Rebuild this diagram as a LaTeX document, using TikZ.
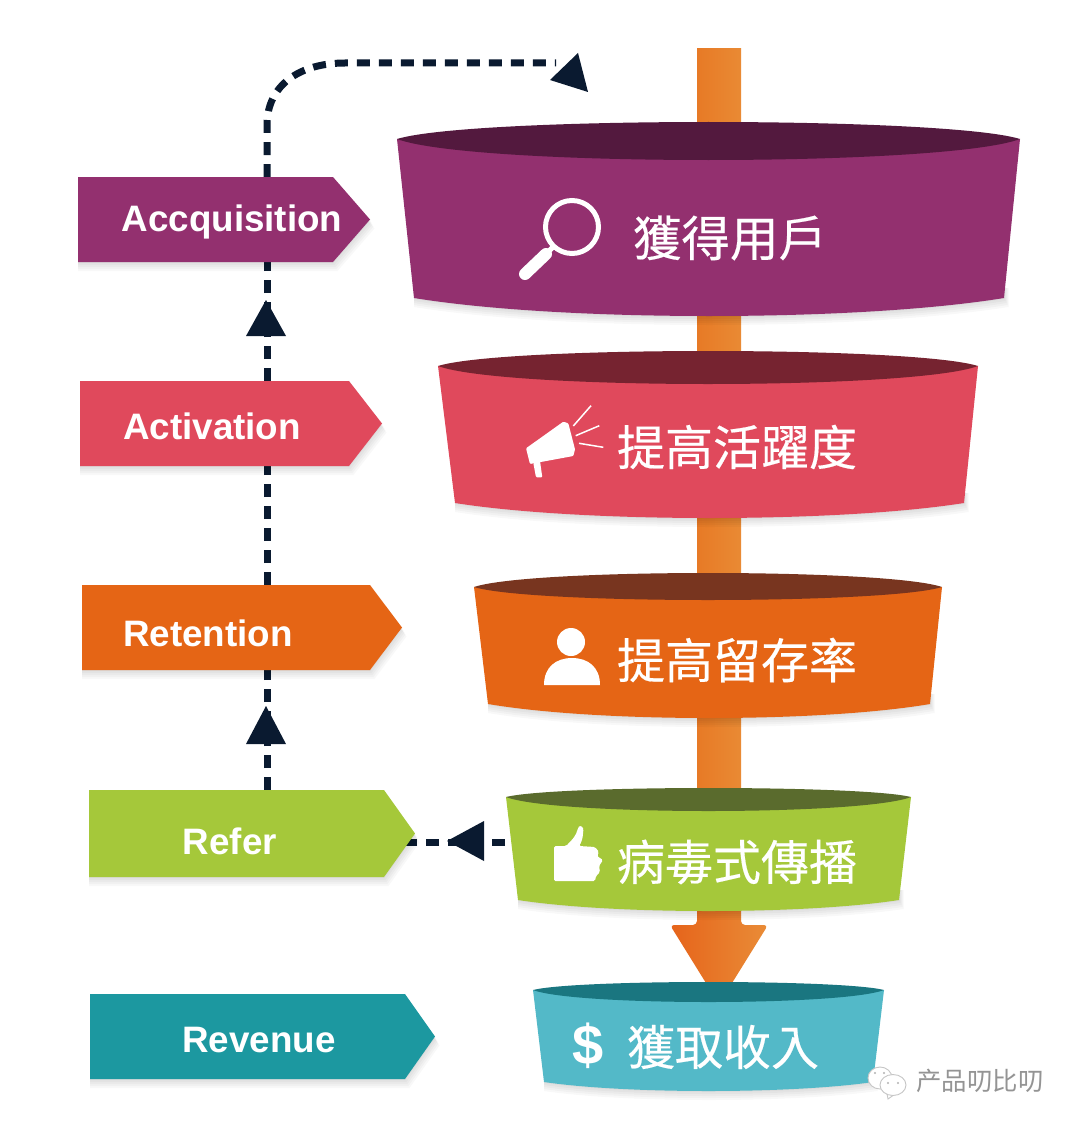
\documentclass[tikz,border=0pt]{standalone}
\usepackage{fontspec}
\setmainfont{Liberation Sans}
\newfontfamily\cjk[FakeBold=0.35]{Noto Sans CJK TC}
\newfontfamily\cjksc{Noto Sans CJK SC}
\usetikzlibrary{calc}
\definecolor{ink}{HTML}{0A1A30}
\definecolor{oraL}{HTML}{E6641B}
\definecolor{oraR}{HTML}{E98C37}
\definecolor{shaftL}{HTML}{E77A26}
\definecolor{shaftR}{HTML}{E98A34}
\definecolor{purpleB}{HTML}{93306F}
\definecolor{purpleD}{HTML}{53193E}
\definecolor{redB}{HTML}{E0495C}
\definecolor{redD}{HTML}{762330}
\definecolor{orangeB}{HTML}{E56515}
\definecolor{orangeD}{HTML}{78351F}
\definecolor{greenB}{HTML}{A5C83A}
\definecolor{greenD}{HTML}{5A6B2D}
\definecolor{tealB}{HTML}{53B9C8}
\definecolor{tealD}{HTML}{1A7680}
\definecolor{tealT}{HTML}{1C98A0}
\tikzset{
  taglabel/.style={text=white,font=\bfseries\fontsize{36.8}{40}\selectfont,inner sep=0pt},
  funnellabel/.style={text=white,font=\cjk\fontsize{48}{50}\selectfont,inner sep=0pt},
  tagbox/.style={anchor=north west,inner sep=0pt,outer sep=0pt},
  flow/.style={draw=ink,line width=7pt,dash pattern=on 13pt off 9pt},
  headfill/.style={fill=ink},
  iconfill/.style={fill=white,draw=none},
  softshade/.style={fill=black,opacity=0.028}
}
\newcommand{\tagpent}[7]{% name, x0, xshoulder, xtip, ytop, ybot, colour
  \foreach \d in {1,3,5,7,9}{
    \fill[softshade] ({#2},{#5+\d}) -- ({#3+\d/2},{#5+\d}) -- ({#4+\d/2},{(#5+#6)/2+\d}) -- ({#3+\d/2},{#6+\d}) -- ({#2},{#6+\d}) -- cycle;
  }
  \fill[#7] (#2,#5) -- (#3,#5) -- (#4,{(#5+#6)/2}) -- (#3,#6) -- (#2,#6) -- cycle;
  \node[tagbox,minimum width={(#4-#2)*1pt},minimum height={(#6-#5)*1pt}] (#1) at (#2,#5) {};
}
\begin{document}
\begin{tikzpicture}[x=1pt,y=-1pt]
\useasboundingbox (0,0) rectangle (1080,1129);
\fill[white] (0,0) rectangle (1080,1129);

% central shaft with arrow head
\shade[left color=shaftL,right color=shaftR] (697,49) rectangle (741,830);
\shade[left color=oraL,right color=oraR,rounded corners=4pt]
  (697,820) -- (697,925) -- (670,925) -- (719,1004) -- (768,925) -- (741,925) -- (741,820) -- cycle;

% funnels: xl xr yl top under xbl xbr yb ybm body dark
\foreach \xl/\xr/\yl/\ya/\yu/\xbl/\xbr/\yb/\ybm/\cb/\cd in {
  397/1020/139/122/160/414/1004/298/316/purpleB/purpleD,
  438/978/366/351/384/455/964/503/518/redB/redD,
  474/942/587/573/600/488/930/704/718/orangeB/orangeD,
  506/911/797/788/811/518/899/900/911/greenB/greenD,
  533/884/990/982/1002/544/873/1082/1091/tealB/tealD}{
  \foreach \d in {1,3,5,7,9}{
    \fill[softshade] (\xbl,{\yb-10}) -- (\xbl,{\yb+\d})
      .. controls ({\xbl+0.25*(\xbr-\xbl)},{\yb+\d+(\ybm-\yb)*4/3}) and ({\xbr-0.25*(\xbr-\xbl)},{\yb+\d+(\ybm-\yb)*4/3}) .. ({\xbr+\d/2},{\yb+\d}) -- ({\xbr+\d/2},{\yb-10}) -- cycle;
  }
  \fill[\cb] (\xl,\yl) -- (\xbl,\yb)
    .. controls ({\xbl+0.25*(\xbr-\xbl)},{\yb+(\ybm-\yb)*4/3}) and ({\xbr-0.25*(\xbr-\xbl)},{\yb+(\ybm-\yb)*4/3}) .. (\xbr,\yb)
    -- (\xr,\yl) -- cycle;
  \fill[\cd] (\xl,\yl)
    .. controls ({\xl+0.12*(\xr-\xl)},{\yl+(\ya-\yl)*4/3}) and ({\xr-0.12*(\xr-\xl)},{\yl+(\ya-\yl)*4/3}) .. (\xr,\yl)
    .. controls ({\xr-0.12*(\xr-\xl)},{\yl+(\yu-\yl)*4/3}) and ({\xl+0.12*(\xr-\xl)},{\yl+(\yu-\yl)*4/3}) .. (\xl,\yl) -- cycle;
}

% connector anchors
\coordinate (spine) at (267,0);
\coordinate (viralEdge) at (505,842);
\coordinate (topEnd) at (556,63);
\coordinate (bendA) at (267,125);
\coordinate (bendB) at (345,63);

% label tags (positions only; connectors are drawn between them below)
\path (78,177) coordinate (acqTL) (80,381) coordinate (actTL) (82,585) coordinate (retTL) (89,790) coordinate (refTL);
\node[tagbox,minimum width=292pt,minimum height=85pt] (acq0) at (acqTL) {};
\node[tagbox,minimum width=302pt,minimum height=85pt] (act0) at (actTL) {};
\node[tagbox,minimum width=320pt,minimum height=85pt] (ret0) at (retTL) {};
\node[tagbox,minimum width=326pt,minimum height=87pt] (ref0) at (refTL) {};

% dashed connectors
\draw[flow] (ref0.north -| spine) -- (ret0.south -| spine);
\draw[flow] (ret0.north -| spine) -- (act0.south -| spine);
\draw[flow] (act0.north -| spine) -- (acq0.south -| spine);
\draw[flow] (acq0.north -| spine) -- (bendA) .. controls (267,85) and (300,63) .. (bendB) -- (topEnd);
\draw[flow] (viralEdge) -- (ref0.center |- viralEdge);

% arrow heads
\coordinate (h1) at (266,706);
\coordinate (h2) at (266,300);
\coordinate (h3) at (447,841);
\coordinate (h4) at (588,92);
\fill[headfill] (h1) -- ++(20,38) -- ++(-40,0) -- cycle;
\fill[headfill] (h2) -- ++(20,36) -- ++(-40,0) -- cycle;
\fill[headfill] (h3) -- ++(37,-20) -- ++(0,40) -- cycle;
\fill[headfill] (h4) -- ++(-10,-39) -- ++(-28,27) -- cycle;

% tags
\tagpent{acq}{78}{333}{370}{177}{262}{purpleB}
\tagpent{act}{80}{349}{382}{381}{466}{redB}
\tagpent{ret}{82}{370}{402}{585}{670}{orangeB}
\tagpent{ref}{89}{384}{415}{790}{877}{greenB}
\tagpent{rev}{90}{405}{435}{994}{1079}{tealT}

\node[taglabel] (acqT) at (232,222) {Accquisition};
\node[taglabel] (actT) at (212,426) {Activation};
\node[taglabel] (retT) at (208,633) {Retention};
\node[taglabel] (refT) at (230,841) {Refer};
\node[taglabel] (revT) at (259,1040) {Revenue};

% funnel labels
\node[funnellabel,font=\cjk\fontsize{48.5}{50}\selectfont] (f1) at (730,238) {獲得用戶};
\node[funnellabel] (f2) at (737,447) {提高活躍度};
\node[funnellabel] (f3) at (737,660) {提高留存率};
\node[funnellabel] (f4) at (737,862) {病毒式傳播};
\node[funnellabel] (f5) at (723,1047) {獲取收入};
\node[text=white,font=\bfseries\fontsize{56}{58}\selectfont,inner sep=0pt] (dollar) at (588,1046) {\$};

% magnifier icon
\draw[white,line width=5pt] (572,227) circle (26.5);
\draw[white,line width=5pt] (553,247) -- (544,256);
\draw[white,line width=12pt,line cap=round] (546,254) -- (525,274);

% megaphone icon
\fill[iconfill,rounded corners=1pt] (526,448.3) -- (563.3,421.7) -- (568.3,423.3) -- (575,449.3) -- (573.3,456) -- (530,464) -- cycle;
\fill[iconfill,rounded corners=1pt] (533.3,463) -- (536,477.3) -- (542.3,477.3) -- (540,461) -- cycle;
\draw[white,line width=1.5pt] (573.3,426) -- (591,405.7);
\draw[white,line width=1.5pt] (575.7,435.7) -- (599.3,425.7);
\draw[white,line width=1.5pt] (579,443.3) -- (603.3,447.3);

% person icon
\fill[iconfill] (571,642) circle (14);
\fill[iconfill] (544,685) .. controls (544,667) and (556,658) .. (572,658) .. controls (588,658) and (600,667) .. (600,685) -- cycle;

% thumb icon
\fill[iconfill,rounded corners=1.5pt] (554,846) -- (566,846) .. controls (572,840) and (576,836) .. (578,828)
  .. controls (580,825) and (584,827) .. (583,832) .. controls (583,838) and (581,843) .. (579,846)
  -- (595,847) -- (599,852) -- (597,856) -- (603,860) -- (599,866) -- (600,872) -- (596,876) -- (595,881) -- (554,881) -- cycle;

% watermark
\fill[white,draw=gray!45,line width=0.9pt] (880,1078) ellipse (12 and 11);
\fill[white,draw=gray!45,line width=0.9pt] (893,1085) ellipse (13 and 10.5);
\draw[gray!45,line width=0.9pt] (887,1094) -- (888,1099) -- (893,1095.5);
\fill[gray!60] (875,1073) circle (1.1) (884,1073) circle (1.1) (888,1083) circle (1.1) (898,1083) circle (1.1);
\node[text=black!42,font=\cjksc\fontsize{25.4}{27}\selectfont,inner sep=0pt] (mark) at (980,1081) {产品叨比叨};
\end{tikzpicture}
\end{document}
